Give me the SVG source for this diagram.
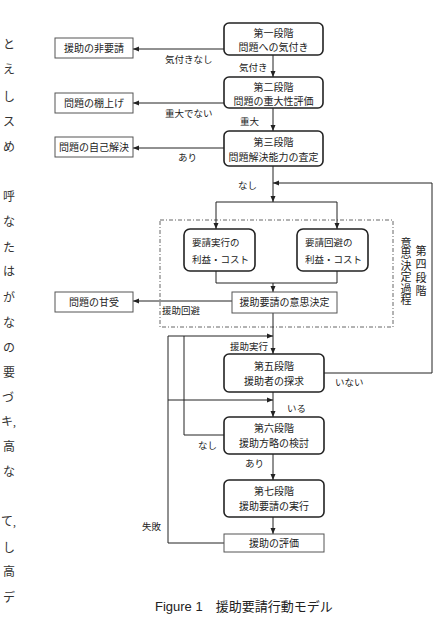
<svg xmlns="http://www.w3.org/2000/svg" width="434" height="628" viewBox="0 0 434 628">
<style>
text{font-family:"Liberation Serif","Noto Sans CJK JP",serif;fill:#222}
.st{fill:#fff;stroke:#222;stroke-width:1.6}
.bx{fill:#fff;stroke:#555;stroke-width:1}
.t{font-size:10px;text-anchor:middle}
.lb{font-size:9.5px}
.mg{font-size:12px;fill:#333;text-anchor:middle}
.ln{fill:none;stroke:#222;stroke-width:1}
.cap{font-family:"Liberation Sans","Noto Sans CJK JP",sans-serif;font-size:13px;fill:#222}
</style>
<defs>
<marker id="ah" markerWidth="6" markerHeight="6" refX="6" refY="3" orient="auto" markerUnits="userSpaceOnUse"><path d="M0,0.5 L6,3 L0,5.5 z" fill="#222"/></marker>
</defs>
<rect width="434" height="628" fill="#fff"/>

<g id="margin-text">
<text class="mg" x="9" y="49">と</text>
<text class="mg" x="9" y="74">え</text>
<text class="mg" x="9" y="101">し</text>
<text class="mg" x="9" y="126">ス</text>
<text class="mg" x="9" y="151">め</text>
<text class="mg" x="9" y="201">呼</text>
<text class="mg" x="9" y="226">な</text>
<text class="mg" x="9" y="252">た</text>
<text class="mg" x="9" y="276">は</text>
<text class="mg" x="9" y="302">が</text>
<text class="mg" x="9" y="327">な</text>
<text class="mg" x="9" y="352">の</text>
<text class="mg" x="9" y="377">要</text>
<text class="mg" x="8" y="402">づ</text>
<text class="mg" x="1" y="426" style="text-anchor:start">キ,</text>
<text class="mg" x="9" y="451">高</text>
<text class="mg" x="9" y="476">な</text>
<text class="mg" x="1" y="526" style="text-anchor:start">て,</text>
<text class="mg" x="9" y="552">し</text>
<text class="mg" x="9" y="576">高</text>
<text class="mg" x="9" y="602">デ</text>
</g>

<g id="decision-area">
<rect x="160" y="220" width="233" height="107" fill="none" stroke="#666" stroke-width="1" stroke-dasharray="4,2,1,2"/>
<text x="405" y="237" style="font-size:11px;writing-mode:vertical-rl;letter-spacing:0.5px">意思決定過程</text>
<text x="420" y="245" style="font-size:11px;writing-mode:vertical-rl;letter-spacing:2.5px">第四段階</text>
</g>

<g id="connectors">
<path class="ln" d="M273,55 V77" marker-end="url(#ah)"/>
<path class="ln" d="M273,108 V131" marker-end="url(#ah)"/>
<path class="ln" d="M224,49 H133" marker-end="url(#ah)"/>
<path class="ln" d="M224,103 H133" marker-end="url(#ah)"/>
<path class="ln" d="M224,148 H133" marker-end="url(#ah)"/>
<path class="ln" d="M273,166 V202" marker-end="url(#ah)"/>
<path class="ln" d="M273,202 H216 V229" marker-end="url(#ah)"/>
<path class="ln" d="M273,202 H337 V229" marker-end="url(#ah)"/>
<path class="ln" d="M216,271 V283 H337 V271"/>
<path class="ln" d="M273,283 V292" marker-end="url(#ah)"/>
<path class="ln" d="M232,301 H133" marker-end="url(#ah)"/>
<path class="ln" d="M273,313 V354" marker-end="url(#ah)"/>
<path class="ln" d="M324,373 H432 V183 H273" marker-end="url(#ah)"/>
<path class="ln" d="M273,392 V417" marker-end="url(#ah)"/>
<path class="ln" d="M273,454 V480" marker-end="url(#ah)"/>
<path class="ln" d="M273,517 V534" marker-end="url(#ah)"/>
<path class="ln" d="M224,435 H184 V336"/>
<path class="ln" d="M224,543 H168 V336 H273" marker-end="url(#ah)"/>
<path class="ln" d="M168,400 H273" marker-end="url(#ah)"/>
</g>

<g id="labels">
<text class="lb" x="165" y="63">気付きなし</text>
<text class="lb" x="239" y="71">気付き</text>
<text class="lb" x="165" y="117">重大でない</text>
<text class="lb" x="240" y="125">重大</text>
<text class="lb" x="178" y="161">あり</text>
<text class="lb" x="238" y="189">なし</text>
<text class="lb" x="162" y="314">援助回避</text>
<text class="lb" x="230" y="350">援助実行</text>
<text class="lb" x="335" y="386">いない</text>
<text class="lb" x="287" y="412">いる</text>
<text class="lb" x="198" y="449">なし</text>
<text class="lb" x="245" y="467">あり</text>
<text class="lb" x="142" y="530">失敗</text>
</g>

<g id="stage1">
<rect class="st" x="224" y="23" width="99" height="32" rx="5"/>
<text class="t" x="273.5" y="37">第一段階</text>
<text class="t" x="273.5" y="51">問題への気付き</text>
</g>
<g id="stage2">
<rect class="st" x="224" y="77" width="99" height="31" rx="5"/>
<text class="t" x="273.5" y="91">第二段階</text>
<text class="t" x="273.5" y="105">問題の重大性評価</text>
</g>
<g id="stage3">
<rect class="st" x="224" y="131" width="99" height="35" rx="5"/>
<text class="t" x="273.5" y="146">第三段階</text>
<text class="t" x="273.5" y="161">問題解決能力の査定</text>
</g>
<g id="non-request">
<rect class="bx" x="55" y="38" width="78" height="20"/>
<text class="t" x="94" y="52">援助の非要請</text>
</g>
<g id="shelve">
<rect class="bx" x="55" y="93" width="78" height="20"/>
<text class="t" x="94" y="107">問題の棚上げ</text>
</g>
<g id="self-solve">
<rect class="bx" x="55" y="137" width="78" height="20"/>
<text class="t" x="94" y="151">問題の自己解決</text>
</g>
<g id="request-cost">
<rect class="st" x="184" y="229" width="71" height="42" rx="6" stroke-width="1.2"/>
<text class="lb" x="192" y="246">要請実行の</text>
<text class="lb" x="192" y="263">利益・コスト</text>
</g>
<g id="avoid-cost">
<rect class="st" x="297" y="229" width="71" height="42" rx="6" stroke-width="1.2"/>
<text class="lb" x="305" y="246">要請回避の</text>
<text class="lb" x="305" y="263">利益・コスト</text>
</g>
<g id="decision">
<rect class="bx" x="232" y="292" width="105" height="21"/>
<text class="t" x="284.5" y="306">援助要請の意思決定</text>
</g>
<g id="accept">
<rect class="bx" x="55" y="292" width="78" height="20"/>
<text class="t" x="94" y="306">問題の甘受</text>
</g>
<g id="stage5">
<rect class="st" x="224" y="354" width="100" height="38" rx="5"/>
<text class="t" x="274" y="370">第五段階</text>
<text class="t" x="274" y="385">援助者の探求</text>
</g>
<g id="stage6">
<rect class="st" x="224" y="417" width="100" height="37" rx="5"/>
<text class="t" x="274" y="432">第六段階</text>
<text class="t" x="274" y="447">援助方略の検討</text>
</g>
<g id="stage7">
<rect class="st" x="224" y="480" width="100" height="37" rx="5"/>
<text class="t" x="274" y="495">第七段階</text>
<text class="t" x="274" y="510">援助要請の実行</text>
</g>
<g id="evaluation">
<rect class="bx" x="224" y="534" width="100" height="18"/>
<text class="t" x="274" y="547">援助の評価</text>
</g>

<text class="cap" x="155" y="611">Figure 1　援助要請行動モデル</text>
</svg>
